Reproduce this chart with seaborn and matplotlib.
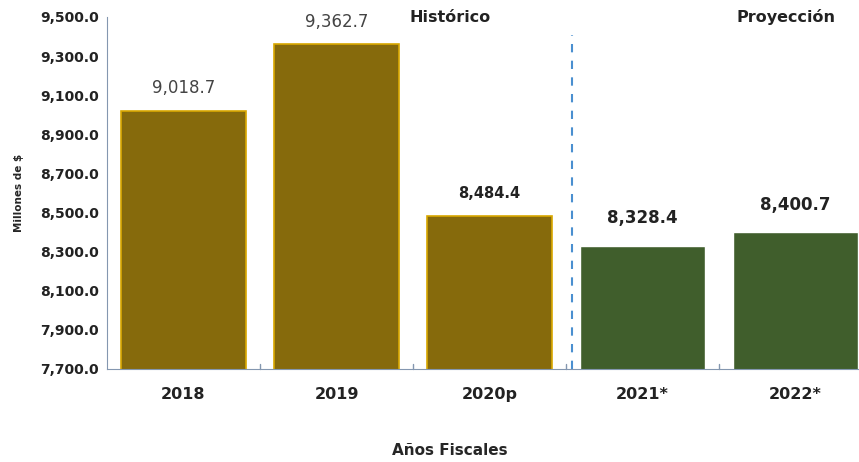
import pandas as pd
import matplotlib.pyplot as plt
import seaborn as sns

anios = ["2018", "2019", "2020p", "2021*", "2022*"]
valores = [9018.7, 9362.7, 8484.4, 8328.4, 8400.7]
etiquetas = ["9,018.7", "9,362.7", "8,484.4", "8,328.4", "8,400.7"]
tipo = ["Histórico", "Histórico", "Histórico", "Proyección", "Proyección"]
yticks = [7700, 7900, 8100, 8300, 8500, 8700, 8900, 9100, 9300, 9500]

df = pd.DataFrame({"anio": anios, "valor": valores, "tipo": tipo})

sns.set_style("white")
plt.rcParams['font.family'] = ['DejaVu Sans']

fig = plt.figure(figsize=(8.59, 4.62), dpi=100)
ax = fig.add_axes([107 / 859, 1 - 369 / 462, 765 / 859, 352 / 462])

sns.barplot(data=df, x="anio", y="valor", hue="tipo",
            palette={"Histórico": "#866A0C", "Proyección": "#405E2C"},
            width=0.82, dodge=False, legend=False, saturation=1, ax=ax)

for p, t in zip(ax.patches, tipo):
    if t == "Histórico":
        p.set_edgecolor("#D9A800")
        p.set_linewidth(1.2)

ax.set_ylim(7700, 9500)
ax.set_xlim(-0.5, 4.5)
ax.set_yticks(yticks)
ax.set_yticklabels([f"{v:,.1f}" for v in yticks], fontsize=10, fontweight="bold", color="#222222")
ax.set_xticks(range(len(anios)))
ax.set_xticklabels(anios, fontsize=11.5, fontweight="bold", color="#222222")
ax.tick_params(axis="x", length=0, pad=13)
ax.tick_params(axis="y", length=0, pad=6)
for x in [0.5, 1.5, 2.5, 3.5]:
    ax.plot([x, x], [7700, 7700 + 1800 * 5 / 352], color="#8497B0", lw=1, clip_on=False)

sns.despine(ax=ax, top=True, right=True)
ax.spines["left"].set_color("#8497B0")
ax.spines["bottom"].set_color("#8497B0")

ax.set_ylabel("Millones de $", fontsize=7.5, fontweight="bold")
ax.yaxis.set_label_coords(-83 / 765, 0.5)
ax.set_xlabel("Años Fiscales", fontsize=11, fontweight="bold")
ax.xaxis.set_label_coords(343 / 765, -74 / 352)

# etiquetas de valores
estilos = [
    dict(fontsize=12, fontweight="normal", color="#444444"),
    dict(fontsize=12, fontweight="normal", color="#444444"),
    dict(fontsize=10.5, fontweight="bold", color="#222222"),
    dict(fontsize=12, fontweight="bold", color="#222222"),
    dict(fontsize=12, fontweight="bold", color="#222222"),
]
offsets = [118, 112, 112, 143, 138]
for i, (v, lab) in enumerate(zip(valores, etiquetas)):
    ax.text(i, v + offsets[i], lab, ha="center", va="center", **estilos[i])

ax.axvline(2.54, ymin=0, ymax=0.95, color="#4A8FD0", lw=1.5, ls=(0, (4, 4)))

ax.text(1.74, 9500, "Histórico", ha="center", va="center", fontsize=11.5, fontweight="bold", color="#222222")
ax.text(3.94, 9500, "Proyección", ha="center", va="center", fontsize=11.5, fontweight="bold", color="#222222")

fig.savefig("out.png", dpi=100)
